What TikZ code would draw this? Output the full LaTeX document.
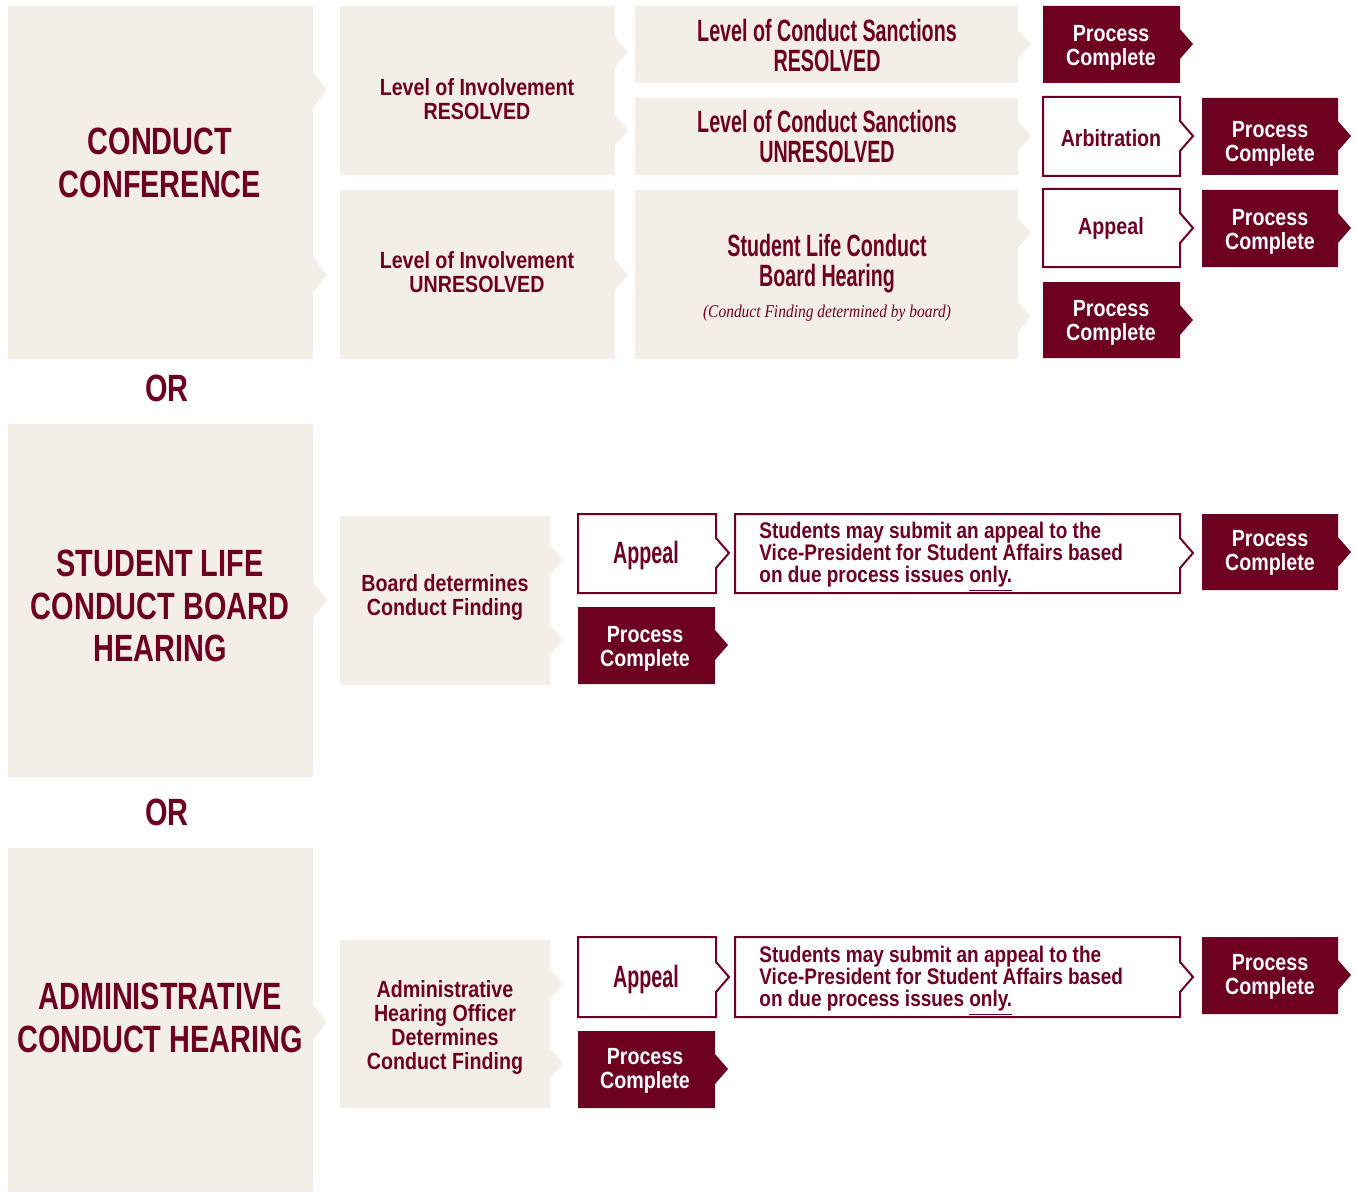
\documentclass[tikz,border=0pt]{standalone}
\usepackage{fontspec}
\setmainfont{Liberation Sans}
\newfontfamily\capsfont{Liberation Sans}[FakeStretch=0.76]
\newfontfamily\boldfont{Liberation Sans}[FakeStretch=0.84]
\newfontfamily\sancfont{Liberation Sans}[FakeStretch=0.64]
\newfontfamily\notefont{Liberation Serif}[FakeStretch=0.86]
\definecolor{fsured}{HTML}{6D0020}
\definecolor{paper}{HTML}{F3EFE8}
\tikzset{
    heading/.style={text=fsured, font=\capsfont\bfseries\fontsize{19}{21.2}\selectfont, align=center, inner sep=0},
    boxtext/.style={text=fsured, font=\boldfont\bfseries\fontsize{11.7}{12}\selectfont, align=center, inner sep=0, yshift=-1pt},
    sanctext/.style={text=fsured, font=\sancfont\bfseries\fontsize{15.4}{15}\selectfont, align=center, inner sep=0, yshift=-1pt},
    donetext/.style={boxtext, text=white, yshift=-0.5pt},
    vptext/.style={text=fsured, font=\boldfont\bfseries\fontsize{11.3}{11}\selectfont, align=left, anchor=west, inner sep=0, yshift=-2pt},
    outlined/.style={draw=fsured, line width=1pt, fill=white},
}
\begin{document}
\begin{tikzpicture}[x=0.5pt,y=-0.5pt]
\useasboundingbox (0,0) rectangle (1356,1193);

%cream boxes
\foreach \xa/\ya/\xb/\yb in {8/6/313/359, 8/424/313/777, 8/848/313/1192, 340/6/615/175, 340/190/615/359, 635/6/1018/83, 635/98/1018/175, 635/190/1018/359, 340/516/550/685, 340/940/550/1108}{
    \fill[paper] (\xa,\ya) rectangle (\xb,\yb);
}
\foreach \x/\y/\h/\d in {313/90/18/14, 313/275/18/14, 313/600/18/14, 313/1022/18/14, 615/52/15/13, 615/130/15/13, 615/275/15/13, 1018/44/15/13, 1018/136/15/13, 1018/233/15/13, 1018/317/15/13, 550/560/15/13, 550/640/15/13, 550/984/15/13, 550/1063/15/13}{
    \fill[paper] (\x,\y-\h) -- (\x+\d,\y) -- (\x,\y+\h) -- cycle;
}
%maroon boxes
\foreach \xa/\ya/\xb/\yb/\n in {1043/6/1180/83/44, 1202/98/1338/175/136, 1202/190/1338/267/228, 1043/282/1180/358/320, 1202/514/1338/590/552, 578/607/715/684/645, 1202/937/1338/1014/975, 578/1031/715/1108/1069}{
    \fill[fsured] (\xa,\ya) -- (\xb,\ya) -- (\xb,\n-15) -- (\xb+13,\n) -- (\xb,\n+15) -- (\xb,\yb) -- (\xa,\yb) -- cycle;
}
%white boxes
\foreach \xa/\ya/\xb/\yb/\n in {1043/97/1180/176/136, 1043/189/1180/267/228, 578/514/716/593/553, 735/514/1180/593/553, 578/937/716/1017/977, 735/937/1180/1017/977}{
    \path[outlined] (\xa,\ya) -- (\xb,\ya) -- (\xb,\n-15) -- (\xb+13,\n) -- (\xb,\n+15) -- (\xb,\yb) -- (\xa,\yb) -- cycle;
}

%headings
\node[heading] (conference) at (160,163) {CONDUCT\\CONFERENCE};
\node[heading] (or1) at (167,388) {OR};
\node[heading] (board) at (160,606) {STUDENT LIFE\\CONDUCT BOARD\\HEARING};
\node[heading] (or2) at (167,812) {OR};
\node[heading] (admin) at (160,1018) {ADMINISTRATIVE\\CONDUCT HEARING};

%conduct conference
\node[boxtext] (invres) at (477,97) {Level of Involvement\\RESOLVED};
\node[boxtext] (invunres) at (477,270) {Level of Involvement\\UNRESOLVED};
\node[sanctext] (sancres) at (827,43) {Level of Conduct Sanctions\\RESOLVED};
\node[sanctext] (sancunres) at (827,134) {Level of Conduct Sanctions\\UNRESOLVED};
\node[sanctext] (hearing) at (827,262) {Student Life Conduct\\Board Hearing};
\node[text=fsured, font=\notefont\itshape\fontsize{9}{9}\selectfont, inner sep=0] (finding) at (827,313) {(Conduct Finding determined by board)};
\node[donetext] (done1) at (1111,45) {Process\\Complete};
\node[boxtext] (arbitration) at (1111,136) {Arbitration};
\node[boxtext] (appeal1) at (1111,226) {Appeal};
\node[donetext] (done2) at (1270,141) {Process\\Complete};
\node[donetext] (done3) at (1270,229) {Process\\Complete};
\node[donetext] (done4) at (1111,320) {Process\\Complete};

%student life conduct board hearing
\node[boxtext] (determines) at (445,595) {Board determines\\Conduct Finding};
\node[sanctext] (appeal2) at (646,554) {Appeal};
\node[vptext] (vp1) at (759,553) {Students may submit an appeal to the\\Vice-President for Student Affairs based\\on due process issues \underline{only.}};
\node[donetext] (done5) at (1270,550) {Process\\Complete};
\node[donetext] (done6) at (645,646) {Process\\Complete};

%administrative conduct hearing
\node[boxtext] (officer) at (445,1025) {Administrative\\Hearing Officer\\Determines\\Conduct Finding};
\node[sanctext] (appeal3) at (646,978) {Appeal};
\node[vptext] (vp2) at (759,977) {Students may submit an appeal to the\\Vice-President for Student Affairs based\\on due process issues \underline{only.}};
\node[donetext] (done7) at (1270,974) {Process\\Complete};
\node[donetext] (done8) at (645,1068) {Process\\Complete};

\end{tikzpicture}
\end{document}
